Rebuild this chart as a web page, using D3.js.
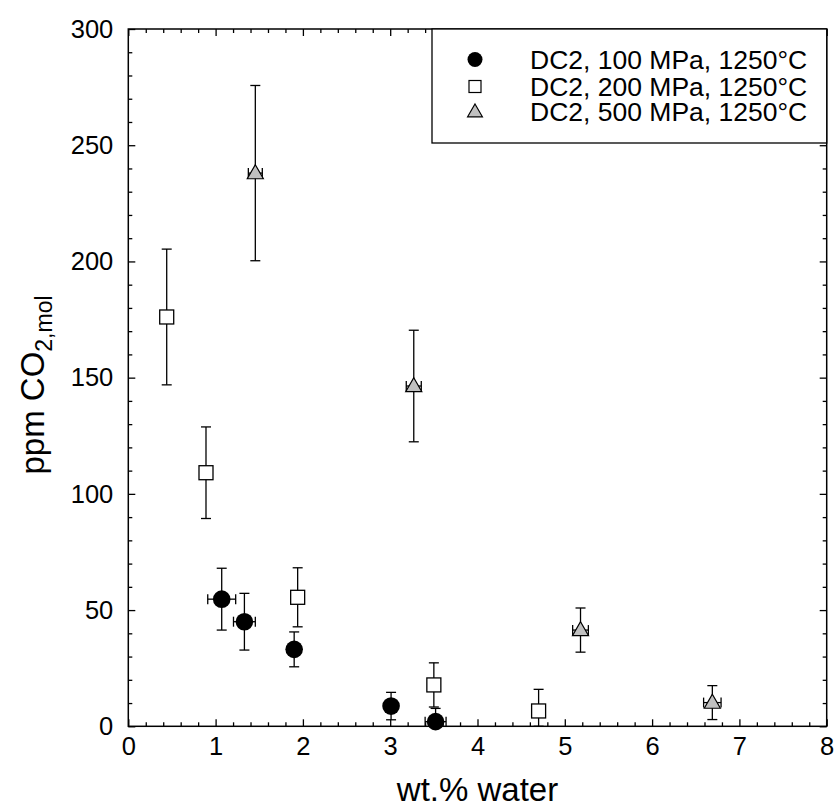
<!DOCTYPE html>
<meta charset="utf-8">
<script src="https://d3js.org/d3.v7.min.js"></script>
<style>
  body { margin: 0; background: #fff; }
  text { font-family: Arial, "Liberation Sans", sans-serif; fill: #000; }
</style>

<div id="chart"></div>

<script>
  // values (wt.% water, ppm CO2, errors)
  var water100 = [1.07, 1.33, 1.90, 3.01, 3.52];
  var co2100   = [54.7, 45.0, 33.1, 8.7, 2.0];
  var xerr100  = [0.16, 0.125, 0.05, 0.05, 0.12];
  var yerr100  = [13.3, 12.2, 7.5, 5.9, 5.7];

  var water200 = [0.44, 0.89, 1.94, 3.50, 4.70];
  var co2200   = [176.1, 109.1, 55.5, 17.8, 6.6];
  var yerr200  = [29.2, 19.7, 12.7, 9.5, 9.3];

  var water500 = [1.455, 3.27, 5.18, 6.69];
  var co2500   = [238.0, 146.4, 41.4, 10.2];
  var xerr500  = [0.08, 0.086, 0.09, 0.10];
  var yerr500  = [37.7, 24.0, 9.5, 7.3];

  var legendLabels = ["DC2, 100 MPa, 1250°C", "DC2, 200 MPa, 1250°C", "DC2, 500 MPa, 1250°C"];
  var xTicks = [0, 1, 2, 3, 4, 5, 6, 7, 8];
  var yTicks = [0, 50, 100, 150, 200, 250, 300];

  // set the dimensions and margins of the graph
  var margin = {top: 29, right: 7.3, bottom: 82.7, left: 128.3},
      width = 834 - margin.left - margin.right,
      height = 809 - margin.top - margin.bottom;

  var svg = d3.select("#chart")
    .append("svg")
      .attr("width", 834)
      .attr("height", 809)
    .append("g")
      .attr("transform", "translate(" + margin.left + "," + margin.top + ")");

  var x = d3.scaleLinear().domain([0, 8]).range([0, width]);
  var y = d3.scaleLinear().domain([0, 300]).range([height, 0]);

  var xMinor = d3.range(0, 8.001, 0.2).map(function(v) { return +v.toFixed(1); })
    .filter(function(v) { return xTicks.indexOf(v) < 0; });
  var yMinor = d3.range(0, 301, 10).filter(function(v) { return yTicks.indexOf(v) < 0; });

  function tidy(g) {
    g.select(".domain").remove();
    g.selectAll("line").attr("stroke", "#000").attr("stroke-width", 1.3);
  }

  // major ticks + labels
  svg.append("g")
    .attr("transform", "translate(0," + height + ")")
    .call(d3.axisBottom(x).tickValues(xTicks).tickSizeInner(-7).tickSizeOuter(0).tickPadding(11))
    .call(tidy)
    .selectAll("text").style("font-size", "25.5px");

  svg.append("g")
    .call(d3.axisLeft(y).tickValues(yTicks).tickSizeInner(-7).tickSizeOuter(0).tickPadding(15))
    .call(tidy)
    .selectAll("text").style("font-size", "25.5px");

  svg.append("g")
    .call(d3.axisTop(x).tickValues(xTicks).tickSizeInner(-7).tickSizeOuter(0).tickFormat(""))
    .call(tidy);

  svg.append("g")
    .attr("transform", "translate(" + width + ",0)")
    .call(d3.axisRight(y).tickValues(yTicks).tickSizeInner(-7).tickSizeOuter(0).tickFormat(""))
    .call(tidy);

  // minor ticks
  svg.append("g")
    .attr("transform", "translate(0," + height + ")")
    .call(d3.axisBottom(x).tickValues(xMinor).tickSizeInner(-4).tickSizeOuter(0).tickFormat(""))
    .call(tidy);
  svg.append("g")
    .call(d3.axisTop(x).tickValues(xMinor).tickSizeInner(-4).tickSizeOuter(0).tickFormat(""))
    .call(tidy);
  svg.append("g")
    .call(d3.axisLeft(y).tickValues(yMinor).tickSizeInner(-4).tickSizeOuter(0).tickFormat(""))
    .call(tidy);
  svg.append("g")
    .attr("transform", "translate(" + width + ",0)")
    .call(d3.axisRight(y).tickValues(yMinor).tickSizeInner(-4).tickSizeOuter(0).tickFormat(""))
    .call(tidy);

  // frame
  svg.append("rect")
    .attr("width", width)
    .attr("height", height)
    .attr("fill", "none")
    .attr("stroke", "#000")
    .attr("stroke-width", 1.5);

  // error bars
  var bars = svg.append("g").attr("stroke", "#000").attr("stroke-width", 1.3).attr("fill", "none");
  var cap = 5;

  function drawErrors(xs, ys, exs, eys) {
    xs.forEach(function(xv, i) {
      var cx = x(xv), cy = y(ys[i]);
      var ey = eys ? eys[i] : 0, ex = exs ? exs[i] : 0;
      if (ey > 0) {
        var lo = Math.max(0, ys[i] - ey), hi = ys[i] + ey;
        bars.append("line").attr("x1", cx).attr("x2", cx).attr("y1", y(lo)).attr("y2", y(hi));
        bars.append("line").attr("x1", cx - cap).attr("x2", cx + cap).attr("y1", y(hi)).attr("y2", y(hi));
        bars.append("line").attr("x1", cx - cap).attr("x2", cx + cap).attr("y1", y(lo)).attr("y2", y(lo));
      }
      if (ex > 0) {
        var l = x(xv - ex), r = x(xv + ex);
        bars.append("line").attr("x1", l).attr("x2", r).attr("y1", cy).attr("y2", cy);
        bars.append("line").attr("x1", l).attr("x2", l).attr("y1", cy - cap).attr("y2", cy + cap);
        bars.append("line").attr("x1", r).attr("x2", r).attr("y1", cy - cap).attr("y2", cy + cap);
      }
    });
  }
  drawErrors(water200, co2200, null, yerr200);
  drawErrors(water500, co2500, xerr500, yerr500);
  drawErrors(water100, co2100, xerr100, yerr100);

  // markers
  var triangle = d3.symbol().type(d3.symbolTriangle).size(112);

  svg.selectAll("sq200")
    .data(water200)
    .enter()
    .append("rect")
      .attr("x", function(d) { return x(d) - 7; })
      .attr("y", function(d, i) { return y(co2200[i]) - 7; })
      .attr("width", 14)
      .attr("height", 14)
      .attr("fill", "#fff")
      .attr("stroke", "#000")
      .attr("stroke-width", 1.3);

  svg.selectAll("tri500")
    .data(water500)
    .enter()
    .append("path")
      .attr("d", triangle)
      .attr("transform", function(d, i) { return "translate(" + x(d) + "," + (y(co2500[i]) + 1) + ")"; })
      .attr("fill", "#c0c0c0")
      .attr("stroke", "#000")
      .attr("stroke-width", 1.2);

  svg.selectAll("dot100")
    .data(water100)
    .enter()
    .append("circle")
      .attr("cx", function(d) { return x(d); })
      .attr("cy", function(d, i) { return y(co2100[i]); })
      .attr("r", 8.8)
      .attr("fill", "#000");

  // legend
  var legend = svg.append("g").attr("transform", "translate(" + (432 - margin.left) + ",0)");
  legend.append("rect")
    .attr("width", 826.7 - 432)
    .attr("height", 114)
    .attr("fill", "#fff")
    .attr("stroke", "#000")
    .attr("stroke-width", 1.3);

  var rowY = [30.5, 57.5, 82.5];
  legend.append("circle").attr("cx", 43).attr("cy", rowY[0]).attr("r", 7.5).attr("fill", "#000");
  legend.append("rect").attr("x", 37).attr("y", rowY[1] - 6).attr("width", 12).attr("height", 12)
    .attr("fill", "#fff").attr("stroke", "#000").attr("stroke-width", 1.2);
  legend.append("path").attr("d", d3.symbol().type(d3.symbolTriangle).size(95))
    .attr("transform", "translate(43," + (rowY[2] + 1) + ")")
    .attr("fill", "#c0c0c0").attr("stroke", "#000").attr("stroke-width", 1.2);

  legend.selectAll("lab")
    .data(legendLabels)
    .enter()
    .append("text")
      .attr("x", 98)
      .attr("y", function(d, i) { return rowY[i]; })
      .attr("dy", "0.35em")
      .style("font-size", "26.5px")
      .text(function(d) { return d; });

  // X axis label
  svg.append("text")
    .attr("text-anchor", "middle")
    .attr("x", x(0) + (477.5 - margin.left))
    .attr("y", height + 75)
    .style("font-size", "33px")
    .text("wt.% water");

  // Y axis label
  var ylab = svg.append("text")
    .attr("text-anchor", "middle")
    .attr("transform", "translate(" + (44 - margin.left) + "," + (385 - margin.top) + ") rotate(-90)")
    .style("font-size", "33px");
  ylab.append("tspan").text("ppm CO");
  ylab.append("tspan").attr("dy", 8).style("font-size", "23px").text("2,mol");
</script>
